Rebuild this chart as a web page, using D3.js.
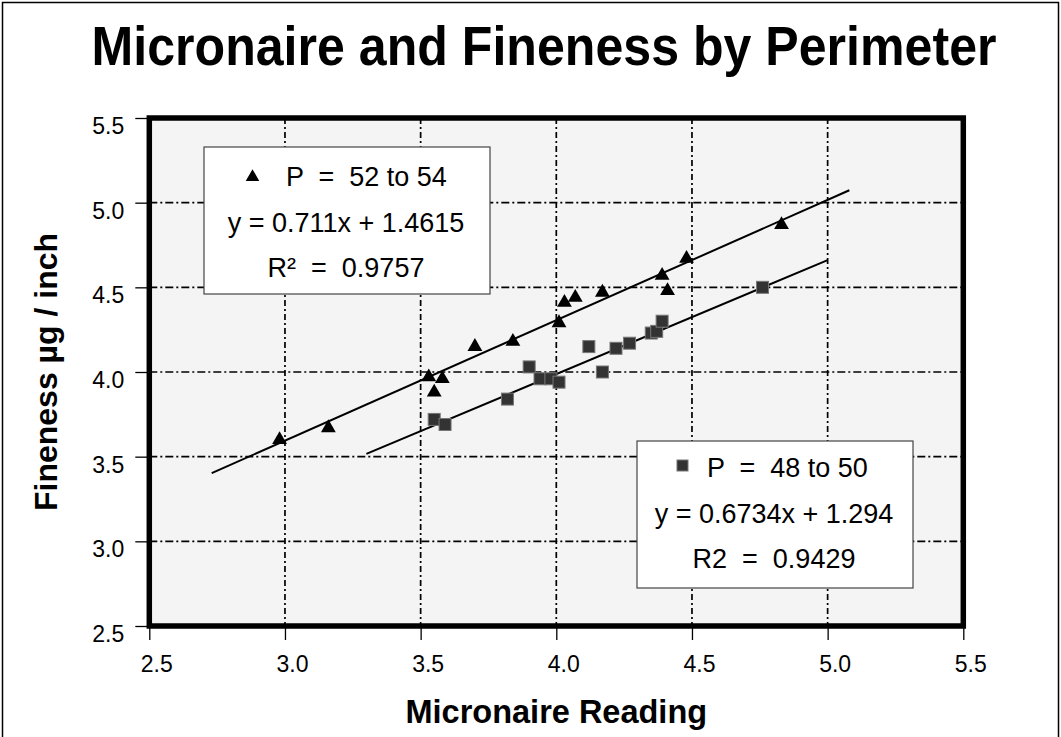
<!DOCTYPE html>
<html>
<head>
<meta charset="utf-8">
<script src="https://cdn.jsdelivr.net/npm/d3@7"></script>
<style>
  body { margin: 0; background: #fff; }
  svg { display: block; font-family: Arial, "Liberation Sans", sans-serif; }
</style>
</head>
<body>
<script>

// data
var xTicks = [2.5, 3.0, 3.5, 4.0, 4.5, 5.0, 5.5];
var yTicks = [2.5, 3.0, 3.5, 4.0, 4.5, 5.0, 5.5];

// P = 52 to 54 (triangles)
var p5254X = [2.98, 3.16, 3.53, 3.55, 3.58, 3.70, 3.84, 4.01, 4.03, 4.07, 4.17, 4.39, 4.41, 4.48, 4.83];
var p5254Y = [3.60, 3.67, 3.97, 3.88, 3.96, 4.15, 4.18, 4.29, 4.41, 4.44, 4.47, 4.57, 4.48, 4.67, 4.87];

// P = 48 to 50 (squares)
var p4850X = [3.55, 3.59, 3.82, 3.90, 3.94, 3.98, 4.01, 4.12, 4.17, 4.22, 4.27, 4.35, 4.37, 4.39, 4.76];
var p4850Y = [3.72, 3.69, 3.84, 4.03, 3.96, 3.96, 3.94, 4.15, 4.00, 4.14, 4.17, 4.23, 4.24, 4.30, 4.50];

// trend lines: slope, intercept, x range
var trendSlope = [0.711, 0.6734];
var trendIntercept = [1.4615, 1.294];
var trendFrom = [2.73, 3.30];
var trendTo = [5.08, 5.00];

var legend1Lines = ['P  =  52 to 54', 'y = 0.711x + 1.4615', 'R\u00B2  =  0.9757'];
var legend2Lines = ['P  =  48 to 50', 'y = 0.6734x + 1.294', 'R2  =  0.9429'];


var svg = d3.select('body').append('svg')
    .attr('width', 1061)
    .attr('height', 737);

// outer frame
svg.append('rect')
    .attr('x', 2.5).attr('y', 2.5)
    .attr('width', 1056).attr('height', 740)
    .attr('fill', 'none')
    .attr('stroke', '#000')
    .attr('stroke-width', 1.5);

var x = d3.scaleLinear().domain([2.5, 5.5]).range([149.3, 963.3]);
var y = d3.scaleLinear().domain([2.5, 5.5]).range([626, 118]);

// plot area
svg.append('rect')
    .attr('x', x(2.5)).attr('y', y(5.5))
    .attr('width', x(5.5) - x(2.5))
    .attr('height', y(2.5) - y(5.5))
    .attr('fill', '#f4f4f4');

// grid
var grid = svg.append('g');
grid.selectAll('.vgrid')
    .data(xTicks.slice(1, -1))
    .enter().append('line')
    .attr('x1', d => x(d)).attr('x2', d => x(d))
    .attr('y1', y(5.5)).attr('y2', y(2.5))
    .attr('stroke', '#000')
    .attr('stroke-width', 1.7)
    .attr('stroke-dasharray', '6,3,2,3');
grid.selectAll('.hgrid')
    .data(yTicks.slice(1, -1))
    .enter().append('line')
    .attr('x1', x(2.5)).attr('x2', x(5.5))
    .attr('y1', d => y(d)).attr('y2', d => y(d))
    .attr('stroke', '#000')
    .attr('stroke-width', 1.7)
    .attr('stroke-dasharray', '8,3,2,3');

// axes
var xAxis = svg.append('g')
    .attr('transform', 'translate(0,' + y(2.5) + ')')
    .call(d3.axisBottom(x).tickValues(xTicks).tickFormat(d3.format('.1f'))
        .tickSize(14).tickPadding(16).tickSizeOuter(0));
var yAxis = svg.append('g')
    .attr('transform', 'translate(' + x(2.5) + ',0)')
    .call(d3.axisLeft(y).tickValues(yTicks).tickFormat(d3.format('.1f'))
        .tickSize(14).tickPadding(11).tickSizeOuter(0));

[xAxis, yAxis].forEach(function (a) {
    a.select('.domain').remove();
    a.selectAll('line').attr('stroke', '#000').attr('stroke-width', 1.3);
    a.selectAll('text')
        .attr('font-size', 23)
        .attr('font-family', 'Arial, "Liberation Sans", sans-serif')
        .attr('fill', '#000');
});
xAxis.selectAll('text').attr('dx', 7);
yAxis.selectAll('text').attr('dy', '0.67em');

// thick frame of the plot area
svg.append('rect')
    .attr('x', x(2.5)).attr('y', y(5.5))
    .attr('width', x(5.5) - x(2.5))
    .attr('height', y(2.5) - y(5.5))
    .attr('fill', 'none')
    .attr('stroke', '#000')
    .attr('stroke-width', 5.5);

// legend boxes
function legendBox(bx, by, bw, bh, lines, baselines, textX, marker) {
    var g = svg.append('g');
    g.append('rect')
        .attr('x', bx).attr('y', by)
        .attr('width', bw).attr('height', bh)
        .attr('fill', '#fff')
        .attr('stroke', '#444')
        .attr('stroke-width', 1.2);
    g.selectAll('text')
        .data(lines)
        .enter().append('text')
        .attr('x', (d, i) => i === 0 ? textX : bx + bw / 2 - 1)
        .attr('y', (d, i) => baselines[i])
        .attr('text-anchor', (d, i) => i === 0 ? 'start' : 'middle')
        .attr('font-size', 27)
        .style('white-space', 'pre')
        .text(d => d);
    marker(g);
}

legendBox(204, 147, 286, 147, legend1Lines, [186, 231.5, 276.5], 286, function (g) {
    g.append('path')
        .attr('d', d3.symbol(d3.symbolTriangle).size(80))
        .attr('transform', 'translate(252.5,177)')
        .attr('fill', '#000');
});
legendBox(637, 441, 276, 147, legend2Lines, [477, 522.5, 567.5], 707, function (g) {
    g.append('rect')
        .attr('x', 677).attr('y', 460)
        .attr('width', 11).attr('height', 11)
        .attr('fill', '#333')
        .attr('stroke', '#777')
        .attr('stroke-width', 1);
});

// trend lines
var trendIdx = [0, 1];
svg.selectAll('.trend')
    .data(trendIdx)
    .enter().append('line')
    .attr('class', 'trend')
    .attr('x1', i => x(trendFrom[i]))
    .attr('y1', i => y(trendSlope[i] * trendFrom[i] + trendIntercept[i]))
    .attr('x2', i => x(trendTo[i]))
    .attr('y2', i => y(trendSlope[i] * trendTo[i] + trendIntercept[i]))
    .attr('stroke', '#000')
    .attr('stroke-width', 2);

// squares
svg.selectAll('.sq')
    .data(p4850X)
    .enter().append('rect')
    .attr('class', 'sq')
    .attr('x', d => x(d) - 6)
    .attr('y', (d, i) => y(p4850Y[i]) - 6)
    .attr('width', 12).attr('height', 12)
    .attr('fill', '#333')
    .attr('stroke', '#777')
    .attr('stroke-width', 1);

// triangles
svg.selectAll('.tri')
    .data(p5254X)
    .enter().append('path')
    .attr('class', 'tri')
    .attr('d', d3.symbol(d3.symbolTriangle).size(95))
    .attr('transform', (d, i) => 'translate(' + x(d) + ',' + y(p5254Y[i]) + ')')
    .attr('fill', '#000');

// titles
svg.append('text')
    .attr('transform', 'translate(544,65) scale(1,1.1)')
    .attr('text-anchor', 'middle')
    .attr('font-size', 50)
    .attr('font-weight', 'bold')
    .attr('textLength', 905)
    .attr('lengthAdjust', 'spacingAndGlyphs')
    .text('Micronaire and Fineness by Perimeter');

svg.append('text')
    .attr('x', (x(2.5) + x(5.5)) / 2).attr('y', 723)
    .attr('text-anchor', 'middle')
    .attr('font-size', 32.5)
    .attr('font-weight', 'bold')
    .text('Micronaire Reading');

svg.append('text')
    .attr('transform', 'translate(57,' + (y(2.5) + y(5.5)) / 2 + ') rotate(-90)')
    .attr('text-anchor', 'middle')
    .attr('font-size', 32)
    .attr('font-weight', 'bold')
    .text('Fineness \u00B5g / inch');

</script>
</body>
</html>
